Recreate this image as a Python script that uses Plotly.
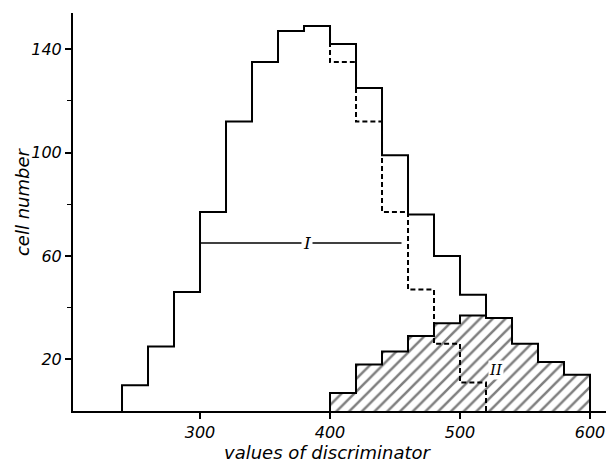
import plotly.graph_objects as go

# ---- data ----
BIN_WIDTH = 20
# distribution I (solid outline), bins starting at 240
I_START = 240
I_VALUES = [10, 25, 46, 77, 112, 135, 147, 149, 142, 125, 99, 76, 60, 45]
# dashed variant of I, bins starting at 400 (diverges from I at 400)
DASH_START = 400
DASH_VALUES = [135, 112, 77, 47, 26, 11]
# distribution II (hatched), bins starting at 400
II_START = 400
II_VALUES = [7, 18, 23, 29, 34, 37, 36, 26, 19, 14]

X_TICKS = [300, 400, 500, 600]
Y_MAJOR = [20, 60, 100, 140]
Y_MINOR = [40, 80, 120]

# label "I" with its leader line (x from, x to, level), label "II"
I_LINE = (300, 455, 65)
I_LABEL_POS = (382, 65)
II_LABEL_POS = (528, 16)

X_RANGE = [202.3, 612.3]
Y_RANGE = [0, 154]

# ---- build step outlines ----
def edges(start, n):
    return [start + k * BIN_WIDTH for k in range(n + 1)]

# II: closed outline from baseline to baseline
ii_e = edges(II_START, len(II_VALUES))
ii_x = [ii_e[0]] + ii_e[:-1] + [ii_e[-1], ii_e[-1]]
ii_y = [0] + II_VALUES + [II_VALUES[-1], 0]

# I: from baseline at 240, ends dropping onto the II outline
i_e = edges(I_START, len(I_VALUES))
ii_at_end = II_VALUES[(i_e[-1] - II_START) // BIN_WIDTH]
i_x = [i_e[0]] + i_e[:-1] + [i_e[-1]]
i_y = [0] + I_VALUES + [ii_at_end]

# dashed: branches from I at DASH_START, ends on baseline
d_e = edges(DASH_START, len(DASH_VALUES))
i_level = I_VALUES[(DASH_START - I_START) // BIN_WIDTH - 1]
d_x = [d_e[0]] + d_e
d_y = [i_level] + DASH_VALUES + [0]

fig = go.Figure()

fig.add_trace(go.Scatter(
    x=ii_x, y=ii_y, mode="lines", line=dict(shape="hv", color="black", width=2),
    fill="tozeroy", fillcolor="white",
    fillpattern=dict(shape="/", fgcolor="black", bgcolor="white", size=9, solidity=0.28),
    hoverinfo="skip", showlegend=False))

fig.add_trace(go.Scatter(
    x=d_x, y=d_y, mode="lines",
    line=dict(shape="hv", color="black", width=2, dash="5px,3px"),
    hoverinfo="skip", showlegend=False))

fig.add_trace(go.Scatter(
    x=i_x, y=i_y, mode="lines", line=dict(shape="hv", color="black", width=2),
    hoverinfo="skip", showlegend=False))

# leader line for I
fig.add_shape(type="line", x0=I_LINE[0], x1=I_LINE[1], y0=I_LINE[2], y1=I_LINE[2],
              line=dict(color="black", width=1.5))

fig.add_annotation(x=I_LABEL_POS[0], y=I_LABEL_POS[1], text="<i>I</i>", showarrow=False,
                   font=dict(family="DejaVu Serif", size=17, color="black"),
                   bgcolor="white", borderpad=1)
fig.add_annotation(x=II_LABEL_POS[0], y=II_LABEL_POS[1], text="<i>II</i>", showarrow=False,
                   font=dict(family="DejaVu Serif", size=15, color="black"),
                   bgcolor="white", borderpad=0)

# axis titles
fig.add_annotation(xref="paper", yref="paper", x=0, y=0.525, xshift=-51,
                   xanchor="center", yanchor="middle",
                   text="cell number", textangle=-90, showarrow=False,
                   font=dict(family="DejaVu Sans", size=18, color="black", style="italic"))
fig.add_annotation(xref="paper", yref="paper", x=0.4775, y=0, yshift=-41,
                   xanchor="center", yanchor="middle",
                   text="values of discriminator", showarrow=False,
                   font=dict(family="DejaVu Sans", size=18, color="black", style="italic"))

fig.update_xaxes(range=X_RANGE, showgrid=False, zeroline=False, automargin=False,
                 showline=True, linecolor="black", linewidth=2,
                 ticks="outside", ticklen=6, tickwidth=1.5, tickcolor="black",
                 tickvals=X_TICKS, ticktext=[str(v) for v in X_TICKS],
                 tickfont=dict(family="DejaVu Sans", size=16, color="black", style="italic"))
fig.update_yaxes(range=Y_RANGE, showgrid=False, zeroline=False, automargin=False,
                 showline=True, linecolor="black", linewidth=2,
                 ticks="outside", ticklen=6, tickwidth=1.5, tickcolor="black",
                 tickvals=Y_MAJOR, ticktext=[str(v) for v in Y_MAJOR],
                 minor=dict(tickvals=Y_MINOR, ticks="outside", ticklen=4, tickwidth=1.2,
                            tickcolor="black"),
                 tickfont=dict(family="DejaVu Sans", size=16, color="black", style="italic"))

fig.update_layout(width=606, height=462, margin=dict(l=73, r=0, t=13, b=51),
                  paper_bgcolor="white", plot_bgcolor="white")

fig.write_html("out.html", config={"displayModeBar": False},
               post_script="document.body.style.margin='0';document.body.style.overflow='hidden';")
